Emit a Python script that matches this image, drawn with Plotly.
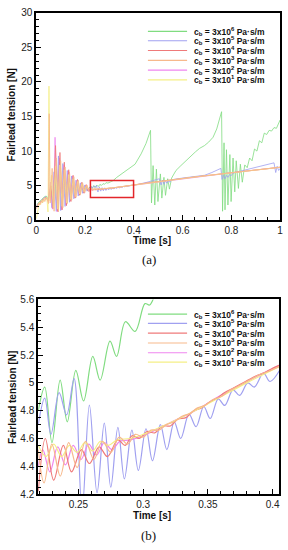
import plotly.graph_objects as go

# ----------------------------- DATA -----------------------------
legend_exponents = ["6", "5", "4", "3", "2", "1"]
series_keys = ["green", "blue", "red", "orange", "magenta", "yellow"]

# (a) early transient, 0 - 0.215 s
green_early_t = [0.000, 0.010, 0.020, 0.030, 0.040, 0.050, 0.058, 0.067, 0.076, 0.085, 0.094, 0.103, 0.112, 0.121, 0.130, 0.139, 0.148, 0.157, 0.166, 0.175, 0.184, 0.193, 0.202, 0.211]
green_early_v = [2.1, 2.6, 2.9, 3.3, 3.5, 3.2, 4.8, 2.0, 6.5, 1.5, 8.4, 1.6, 7.6, 2.2, 6.8, 2.8, 6.1, 3.3, 5.6, 3.7, 5.3, 4.0, 5.05, 4.3]

blue_early_t = [0.000, 0.010, 0.020, 0.030, 0.040, 0.050, 0.055, 0.064, 0.073, 0.082, 0.091, 0.100, 0.109, 0.118, 0.127, 0.136, 0.145, 0.154, 0.163, 0.172, 0.181, 0.190, 0.199, 0.208, 0.214]
blue_early_v = [2.0, 2.5, 2.8, 3.2, 3.4, 3.0, 4.4, 1.8, 7.0, 1.3, 9.3, 1.4, 8.2, 2.0, 7.2, 2.6, 6.4, 3.1, 5.8, 3.5, 5.4, 3.9, 5.1, 4.2, 4.6]

red_early_t = [0.000, 0.010, 0.020, 0.030, 0.040, 0.050, 0.060, 0.069, 0.079, 0.088, 0.097, 0.106, 0.115, 0.124, 0.133, 0.142, 0.151, 0.160, 0.169, 0.178, 0.187, 0.196, 0.205, 0.213]
red_early_v = [1.9, 2.4, 2.7, 3.1, 3.3, 2.9, 5.0, 1.7, 10.8, 1.3, 9.8, 1.5, 8.4, 2.1, 7.3, 2.7, 6.5, 3.2, 5.9, 3.6, 5.5, 3.9, 5.15, 4.2]

orange_early_t = [0.000, 0.005, 0.010, 0.015, 0.020, 0.025, 0.030, 0.035, 0.040, 0.045, 0.050, 0.053, 0.057, 0.065, 0.073, 0.082, 0.091, 0.100, 0.109, 0.118, 0.127, 0.136, 0.145, 0.154, 0.163, 0.172, 0.181, 0.190, 0.199, 0.208, 0.214]
orange_early_v = [1.6, 2.0, 2.5, 2.2, 2.8, 2.5, 3.1, 2.7, 3.3, 3.0, 2.4, 15.4, 2.5, 7.5, 1.3, 9.0, 1.2, 8.6, 1.8, 7.7, 2.4, 7.0, 2.9, 6.3, 3.3, 5.8, 3.7, 5.4, 4.0, 5.1, 4.35]

magenta_early_t = [0.000, 0.010, 0.020, 0.030, 0.040, 0.050, 0.058, 0.066, 0.072, 0.077, 0.086, 0.095, 0.104, 0.113, 0.122, 0.131, 0.140, 0.149, 0.158, 0.167, 0.176, 0.185, 0.194, 0.203, 0.212]
magenta_early_v = [1.8, 2.3, 2.6, 3.0, 3.2, 2.7, 5.5, 1.6, 3.0, 12.0, 1.2, 9.0, 1.5, 8.0, 2.2, 7.1, 2.8, 6.4, 3.3, 5.8, 3.7, 5.4, 4.0, 5.1, 4.35]

yellow_early_t = [0.000, 0.004, 0.008, 0.013, 0.018, 0.023, 0.028, 0.033, 0.038, 0.043, 0.048, 0.052, 0.056, 0.062, 0.070, 0.079, 0.088, 0.097, 0.106, 0.115, 0.124, 0.133, 0.142, 0.151, 0.160, 0.169, 0.178, 0.187, 0.196, 0.205, 0.212]
yellow_early_v = [0.2, 0.8, 1.8, 2.6, 2.3, 2.9, 2.6, 3.2, 2.9, 3.3, 1.2, 19.4, 2.8, 6.5, 1.8, 7.8, 1.6, 8.0, 2.0, 7.3, 2.5, 6.6, 3.0, 6.0, 3.4, 5.6, 3.8, 5.3, 4.1, 5.0, 4.5]

# (b) zoomed window, 0.219 - 0.406 s (also part of (a))
green_zoom_t = [0.219, 0.224, 0.2296, 0.2359, 0.2414, 0.248, 0.254, 0.2611, 0.2668, 0.2744, 0.2795, 0.2863, 0.2938, 0.3014, 0.305, 0.310, 0.315, 0.330, 0.350, 0.370, 0.390, 0.405]
green_zoom_v = [4.80, 4.97, 4.57, 5.02, 4.72, 5.09, 4.87, 5.19, 5.02, 5.30, 5.19, 5.44, 5.37, 5.57, 5.56, 5.65, 5.72, 6.2, 6.7, 7.2, 7.7, 8.1]

blue_zoom_t = [0.219, 0.224, 0.2288, 0.2351, 0.2409, 0.2467, 0.2528, 0.2585, 0.2644, 0.270, 0.275, 0.2805, 0.2855, 0.2913, 0.2963, 0.3022, 0.3072, 0.3133, 0.3183, 0.324, 0.329, 0.3354, 0.3409, 0.3468, 0.3518, 0.358, 0.363, 0.3694, 0.3745, 0.3808, 0.3858, 0.3929, 0.398, 0.406]
blue_zoom_v = [4.70, 4.89, 4.63, 4.93, 4.77, 5.03, 4.08, 4.84, 4.21, 4.71, 4.25, 4.68, 4.31, 4.66, 4.37, 4.67, 4.44, 4.70, 4.52, 4.72, 4.60, 4.775, 4.685, 4.83, 4.744, 4.885, 4.838, 4.95, 4.91, 5.00, 4.97, 5.07, 5.01, 5.10]

red_zoom_t = [0.219, 0.2245, 0.2309, 0.2384, 0.2447, 0.2523, 0.2585, 0.266, 0.2724, 0.2805, 0.286, 0.2915, 0.297, 0.303, 0.309, 0.315, 0.321, 0.327, 0.333, 0.339, 0.345, 0.351, 0.357, 0.363, 0.369, 0.375, 0.381, 0.387, 0.393, 0.399, 0.406]
red_zoom_v = [4.22, 4.60, 4.30, 4.55, 4.36, 4.52, 4.42, 4.54, 4.47, 4.59, 4.55, 4.62, 4.60, 4.65, 4.64, 4.69, 4.69, 4.74, 4.75, 4.80, 4.82, 4.86, 4.89, 4.93, 4.96, 4.99, 5.02, 5.05, 5.07, 5.10, 5.13]

orange_zoom_t = [0.219, 0.2235, 0.2295, 0.236, 0.2425, 0.249, 0.2555, 0.262, 0.2685, 0.275, 0.2815, 0.288, 0.294, 0.300, 0.306, 0.312, 0.318, 0.324, 0.330, 0.336, 0.342, 0.348, 0.354, 0.360, 0.366, 0.372, 0.378, 0.384, 0.390, 0.396, 0.406]
orange_zoom_v = [4.52, 4.28, 4.56, 4.33, 4.57, 4.39, 4.58, 4.45, 4.58, 4.50, 4.61, 4.56, 4.63, 4.61, 4.66, 4.66, 4.70, 4.72, 4.76, 4.78, 4.82, 4.84, 4.88, 4.90, 4.94, 4.97, 5.00, 5.03, 5.06, 5.08, 5.12]

magenta_zoom_t = [0.219, 0.2225, 0.228, 0.234, 0.240, 0.246, 0.252, 0.258, 0.264, 0.270, 0.276, 0.282, 0.290, 0.300, 0.320, 0.340, 0.360, 0.380, 0.406]
magenta_zoom_v = [4.40, 4.52, 4.36, 4.54, 4.41, 4.55, 4.45, 4.56, 4.48, 4.57, 4.52, 4.58, 4.59, 4.62, 4.71, 4.80, 4.91, 5.01, 5.13]

yellow_zoom_t = [0.219, 0.225, 0.231, 0.237, 0.243, 0.249, 0.255, 0.261, 0.267, 0.273, 0.280, 0.290, 0.300, 0.320, 0.340, 0.360, 0.380, 0.406]
yellow_zoom_v = [4.55, 4.47, 4.56, 4.47, 4.55, 4.50, 4.57, 4.51, 4.58, 4.55, 4.59, 4.60, 4.63, 4.71, 4.80, 4.90, 5.00, 5.12]

# (a) late part, 0.43 - 1 s
green_late_t = [0.430, 0.450, 0.4685, 0.4725, 0.479, 0.486, 0.4926, 0.499, 0.509, 0.515, 0.5235, 0.530, 0.539, 0.546, 0.555, 0.573, 0.593, 0.613, 0.633, 0.653, 0.670, 0.690, 0.707, 0.725, 0.740, 0.760, 0.764, 0.770, 0.774, 0.780, 0.786, 0.794, 0.799, 0.807, 0.814, 0.820, 0.829, 0.837, 0.845, 0.855, 0.865, 0.875, 0.885, 0.895, 0.905, 0.915, 0.925, 0.935, 0.945, 0.955, 0.965, 0.975, 0.985, 1.000]
green_late_v = [9.6, 11.1, 13.0, 2.5, 7.9, 2.2, 7.4, 2.7, 6.7, 3.2, 6.2, 3.6, 6.0, 4.5, 6.1, 7.2, 7.9, 8.6, 9.3, 9.9, 10.4, 10.8, 11.3, 12.0, 13.2, 15.7, 1.3, 11.2, 1.5, 10.2, 2.2, 9.5, 2.7, 9.0, 4.1, 8.6, 4.6, 8.1, 5.5, 8.0, 7.6, 9.0, 8.6, 10.3, 10.0, 11.5, 11.2, 12.6, 12.4, 13.0, 12.9, 13.4, 13.3, 14.5]

blue_late_t = [0.450, 0.470, 0.490, 0.505, 0.512, 0.518, 0.524, 0.530, 0.536, 0.542, 0.548, 0.555, 0.600, 0.650, 0.690, 0.720, 0.757, 0.762, 0.768, 0.774, 0.780, 0.786, 0.792, 0.798, 0.805, 0.820, 0.860, 0.900, 0.940, 0.975, 0.982, 0.988, 0.994, 1.000]
blue_late_v = [5.45, 5.65, 5.85, 6.0, 5.1, 5.8, 5.2, 5.7, 5.35, 5.75, 5.5, 5.85, 6.1, 6.35, 6.5, 6.9, 7.5, 5.9, 6.5, 6.0, 6.5, 6.2, 6.6, 6.4, 6.75, 6.95, 7.3, 7.6, 7.95, 8.3, 6.9, 7.8, 7.2, 7.5]

red_late_t = [0.45, 0.50, 0.55, 0.60, 0.65, 0.70, 0.75, 0.80, 0.85, 0.90, 0.95, 1.00]
red_late_v = [5.38, 5.62, 5.86, 6.07, 6.27, 6.47, 6.67, 6.87, 7.07, 7.27, 7.47, 7.67]
orange_late_t = [0.45, 0.50, 0.55, 0.60, 0.65, 0.70, 0.75, 0.80, 0.85, 0.90, 0.95, 1.00]
orange_late_v = [5.36, 5.60, 5.84, 6.05, 6.26, 6.46, 6.66, 6.86, 7.06, 7.26, 7.46, 7.66]
magenta_late_t = [0.45, 0.50, 0.55, 0.60, 0.65, 0.70, 0.75, 0.80, 0.85, 0.90, 0.95, 1.00]
magenta_late_v = [5.37, 5.61, 5.85, 6.06, 6.26, 6.46, 6.66, 6.86, 7.06, 7.26, 7.46, 7.66]
yellow_late_t = [0.45, 0.50, 0.55, 0.60, 0.65, 0.70, 0.75, 0.80, 0.85, 0.90, 0.95, 1.00]
yellow_late_v = [5.35, 5.60, 5.84, 6.05, 6.25, 6.45, 6.65, 6.85, 7.05, 7.25, 7.45, 7.65]

# zoom window marked in (a): time [s], tension [N]
box_t = [0.222, 0.399]
box_v = [3.3, 5.75]

# axis ranges / ticks
a_x_range = [0, 1]
a_y_range = [0, 30]
b_x_range = [0.219, 0.405]
b_y_range = [4.2, 5.6]
b_x_ticks = [0.25, 0.3, 0.35, 0.4]

# ----------------------------- STYLE -----------------------------
colors = {"green": "#80dc80", "blue": "#a0a0f0", "red": "#ef7a7a",
          "orange": "#f7b98c", "magenta": "#ef86ef", "yellow": "#f5ef86"}
draw_order = ["green", "blue", "magenta", "red", "yellow", "orange"]
data = {
    "green": (green_early_t, green_early_v, green_zoom_t, green_zoom_v, green_late_t, green_late_v),
    "blue": (blue_early_t, blue_early_v, blue_zoom_t, blue_zoom_v, blue_late_t, blue_late_v),
    "red": (red_early_t, red_early_v, red_zoom_t, red_zoom_v, red_late_t, red_late_v),
    "orange": (orange_early_t, orange_early_v, orange_zoom_t, orange_zoom_v, orange_late_t, orange_late_v),
    "magenta": (magenta_early_t, magenta_early_v, magenta_zoom_t, magenta_zoom_v, magenta_late_t, magenta_late_v),
    "yellow": (yellow_early_t, yellow_early_v, yellow_zoom_t, yellow_zoom_v, yellow_late_t, yellow_late_v),
}

W, H = 288, 550
fig = go.Figure()

for k in draw_order:
    et, ev, zt, zv, lt, lv = data[k]
    fig.add_trace(go.Scatter(x=et + zt + lt, y=ev + zv + lv, mode="lines",
                             line=dict(color=colors[k], width=0.8), xaxis="x", yaxis="y",
                             hoverinfo="skip"))
for k in draw_order:
    et, ev, zt, zv, lt, lv = data[k]
    fig.add_trace(go.Scatter(x=zt, y=zv, mode="lines",
                             line=dict(color=colors[k], width=1.2, shape="spline", smoothing=1.0),
                             xaxis="x2", yaxis="y2", hoverinfo="skip"))

# red zoom box
fig.add_shape(type="rect", xref="x", yref="y", x0=box_t[0], x1=box_t[1], y0=box_v[0], y1=box_v[1],
              line=dict(color="#e3262b", width=1.5))

tickfont = dict(family="Liberation Sans, Arial", size=10, color="#222")
def ax(**kw):
    base = dict(showline=True, linecolor="black", linewidth=2, mirror=True,
                ticks="inside", ticklen=5, tickwidth=1, tickcolor="black",
                showgrid=False, zeroline=False, tickfont=tickfont, fixedrange=True)
    base.update(kw)
    return base

fig.update_layout(
    width=W, height=H, margin=dict(l=0, r=0, t=0, b=0, pad=0),
    paper_bgcolor="white", plot_bgcolor="white", showlegend=False,
    xaxis=ax(domain=[34 / W, 283 / W], anchor="y", range=a_x_range, dtick=0.2, tick0=0,
             minor=dict(ticks="inside", ticklen=3, dtick=0.05, tickcolor="black")),
    yaxis=ax(domain=[1 - 219 / H, 1 - 7 / H], anchor="x", range=a_y_range, dtick=5, tick0=0,
             minor=dict(ticks="inside", ticklen=3, dtick=1, tickcolor="black")),
    xaxis2=ax(domain=[36 / W, 282 / W], anchor="y2", range=b_x_range, tickvals=b_x_ticks,
              ticktext=[str(v) for v in b_x_ticks],
              minor=dict(ticks="inside", ticklen=3, dtick=0.01, tick0=0.2, tickcolor="black")),
    yaxis2=ax(domain=[1 - 499 / H, 1 - 300 / H], anchor="x2", range=b_y_range, dtick=0.2, tick0=4.2,
              minor=dict(ticks="inside", ticklen=3, dtick=0.05, tick0=4.2, tickcolor="black")),
)

title_font = dict(family="Liberation Sans, Arial", size=10, color="#111")
anns = []
# axis titles
for ytitle_px, xt_px in [(111, 239.5), (400, 520.5)]:
    anns.append(dict(text="<b>Fairlead tension [N]</b>", x=9 / W, y=1 - ytitle_px / H, xref="paper", yref="paper",
                     textangle=-90, showarrow=False, font=title_font, xanchor="center", yanchor="middle"))
    anns.append(dict(text="<b>Time [s]</b>", x=152 / W, y=1 - xt_px / H, xref="paper", yref="paper",
                     showarrow=False, font=title_font, xanchor="center", yanchor="middle"))
# captions
for cap, cy in [("(a)", 259), ("(b)", 541)]:
    anns.append(dict(text=cap, x=149 / W, y=1 - cy / H, xref="paper", yref="paper", showarrow=False,
                     font=dict(family="Liberation Serif, Times New Roman", size=13, color="#111"),
                     xanchor="center", yanchor="middle"))

# manual legends
leg_font = dict(family="Liberation Sans, Arial", size=8.5, color="#111")
for rows in ([26, 35.5, 45.5, 55.5, 65.5, 75.5], [315, 324.5, 334.5, 344.5, 354.5, 364]):
    for key, exp, ry in zip(series_keys, legend_exponents, rows):
        fig.add_shape(type="line", xref="paper", yref="paper", x0=148 / W, x1=188 / W,
                      y0=1 - ry / H, y1=1 - ry / H, line=dict(color=colors[key], width=1.2))
        anns.append(dict(text="<b>c<sub>b</sub> = 3x10<sup>%s</sup> Pa·s/m</b>" % exp,
                         x=193 / W, y=1 - ry / H, xref="paper", yref="paper", showarrow=False,
                         font=leg_font, xanchor="left", yanchor="middle"))
fig.update_layout(annotations=anns)

fig.write_html("out.html", config={"displayModeBar": False, "staticPlot": True},
               post_script="document.body.style.margin='0';document.body.style.padding='0';"
                           "document.documentElement.style.overflow='hidden';")
